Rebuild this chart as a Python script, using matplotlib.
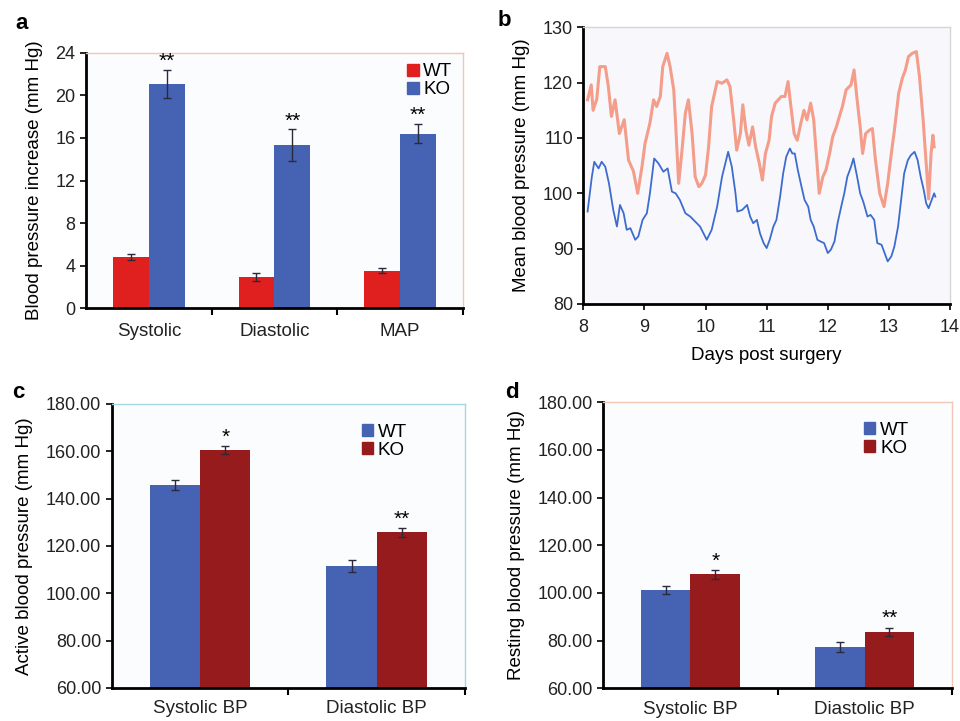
#!/usr/bin/env python3
"""Four-panel blood pressure figure (WT vs KO)."""
import matplotlib
matplotlib.use('Agg')
import matplotlib.pyplot as plt
import matplotlib.ticker as mticker
from matplotlib.patches import Patch
import numpy as np

plt.rcParams['font.family'] = ['Liberation Sans', 'DejaVu Sans']

RED_A   = '#E0201E'
BLUE    = '#4563B2'
DARKRED = '#961B1D'
ERRCOL  = '#2A2A3A'
BG      = '#FBFCFE'
FS      = 13.5   # labels
FS_TICK = 13     # tick labels

# ---------------------------------------------------------------- data
# panel a: increase in blood pressure
a_cats   = ['Systolic', 'Diastolic', 'MAP']
a_wt     = [4.8, 2.9, 3.5]
a_wt_err = [0.3, 0.4, 0.25]
a_ko     = [21.1, 15.3, 16.4]
a_ko_err = [1.3, 1.5, 0.9]
a_stars  = ['**', '**', '**']

# panel b: mean blood pressure trace
b_ko_days = [8.07, 8.13, 8.16, 8.22, 8.27, 8.36, 8.41, 8.46, 8.52, 8.59, 8.67, 8.74,
             8.82, 8.89, 8.96, 9.01, 9.09, 9.15, 9.20, 9.26, 9.30, 9.37, 9.42, 9.48,
             9.51, 9.56, 9.61, 9.67, 9.72, 9.78, 9.83, 9.89, 9.94, 10.00, 10.05, 10.10,
             10.19, 10.27, 10.35, 10.40, 10.46, 10.51, 10.57, 10.61, 10.66, 10.71, 10.77,
             10.82, 10.88, 10.93, 10.98, 11.04, 11.08, 11.14, 11.19, 11.24, 11.30, 11.35,
             11.39, 11.45, 11.50, 11.56, 11.61, 11.66, 11.72, 11.77, 11.82, 11.86, 11.92,
             11.97, 12.03, 12.08, 12.14, 12.19, 12.24, 12.30, 12.38, 12.43, 12.48, 12.53,
             12.57, 12.62, 12.68, 12.73, 12.78, 12.85, 12.92, 12.98, 13.04, 13.09, 13.16,
             13.22, 13.27, 13.32, 13.38, 13.45, 13.50, 13.56, 13.61, 13.65, 13.69, 13.72,
             13.74]
b_ko_vals = [116.9, 119.6, 115.0, 117.0, 122.9, 122.9, 119.3, 113.9, 116.9, 110.8, 113.3,
             106.0, 104.0, 100.0, 104.8, 109.0, 112.7, 116.9, 115.7, 117.5, 122.9, 125.3,
             122.9, 118.7, 112.7, 101.8, 107.2, 114.5, 116.9, 110.8, 103.0, 101.2, 101.8,
             103.3, 108.4, 115.7, 120.2, 119.9, 120.5, 119.3, 113.3, 107.8, 110.8, 116.0,
             111.4, 108.7, 112.0, 108.4, 105.4, 102.4, 107.2, 109.6, 113.9, 116.3, 116.9,
             117.5, 117.5, 120.2, 116.3, 110.8, 109.6, 112.7, 115.0, 113.3, 116.3, 113.3,
             106.0, 100.0, 103.0, 104.2, 107.2, 110.2, 112.0, 113.9, 115.7, 118.7, 119.6,
             122.3, 116.9, 112.0, 107.2, 110.8, 111.4, 111.7, 106.0, 100.0, 97.6, 101.8,
             107.2, 111.4, 118.1, 120.8, 122.3, 124.7, 125.3, 125.6, 121.1, 113.3, 105.4,
             99.0, 107.2, 110.5, 108.4]
b_wt_days = [8.07, 8.14, 8.18, 8.25, 8.30, 8.36, 8.42, 8.49, 8.55, 8.60, 8.66, 8.71,
             8.77, 8.85, 8.90, 8.97, 9.04, 9.09, 9.16, 9.23, 9.31, 9.38, 9.45, 9.51,
             9.58, 9.67, 9.75, 9.83, 9.91, 10.02, 10.10, 10.19, 10.27, 10.37, 10.43,
             10.49, 10.52, 10.60, 10.68, 10.73, 10.78, 10.84, 10.89, 10.95, 11.00, 11.05,
             11.11, 11.16, 11.22, 11.27, 11.32, 11.38, 11.42, 11.46, 11.51, 11.57, 11.62,
             11.68, 11.72, 11.77, 11.83, 11.88, 11.94, 12.00, 12.05, 12.11, 12.16, 12.22,
             12.27, 12.32, 12.38, 12.42, 12.48, 12.53, 12.58, 12.65, 12.70, 12.76, 12.81,
             12.88, 12.93, 12.98, 13.04, 13.09, 13.15, 13.20, 13.25, 13.31, 13.36, 13.42,
             13.47, 13.52, 13.57, 13.61, 13.65, 13.70, 13.74, 13.76]
b_wt_vals = [96.7, 103.0, 105.7, 104.5, 105.7, 104.8, 101.8, 97.0, 94.0, 97.9, 96.4, 93.4,
             93.7, 91.6, 92.2, 95.2, 96.4, 100.0, 106.3, 105.4, 103.9, 104.5, 100.3, 100.0,
             98.8, 96.4, 95.8, 94.9, 94.0, 91.6, 93.4, 97.6, 103.0, 107.5, 104.8, 100.0,
             96.7, 97.0, 97.9, 95.8, 94.6, 95.2, 92.8, 91.0, 90.1, 91.6, 94.0, 95.2, 99.4,
             103.6, 106.6, 108.1, 107.2, 107.2, 104.2, 101.2, 98.8, 97.6, 95.2, 94.0, 91.6,
             91.3, 91.0, 89.2, 89.8, 91.3, 94.6, 97.6, 100.0, 103.0, 104.8, 106.3, 103.0,
             100.0, 98.5, 95.8, 96.1, 95.2, 91.0, 90.7, 89.2, 87.7, 88.6, 90.4, 94.0, 98.8,
             103.6, 106.0, 106.9, 107.5, 106.0, 103.0, 100.6, 98.2, 97.3, 98.8, 100.0, 99.4]

# panels c and d
cd_cats  = ['Systolic BP', 'Diastolic BP']
c_wt     = [145.8, 111.6]
c_wt_err = [2.0, 2.5]
c_ko     = [160.6, 125.8]
c_ko_err = [1.8, 1.8]
c_stars  = ['*', '**']
d_wt     = [101.2, 77.4]
d_wt_err = [1.7, 2.1]
d_ko     = [107.8, 83.8]
d_ko_err = [1.8, 1.7]
d_stars  = ['*', '**']


def style_axes(ax, frame_col):
    ax.set_facecolor(BG)
    for s in ['left', 'bottom']:
        ax.spines[s].set_linewidth(2.0)
        ax.spines[s].set_color('black')
    for s in ['top', 'right']:
        ax.spines[s].set_linewidth(1.0)
        ax.spines[s].set_color(frame_col)
    ax.tick_params(axis='both', labelsize=FS_TICK, direction='out', width=1.2, length=4,
                   colors='black', labelcolor='#222222')


def grouped_bars(ax, cats, wt, wt_err, ko, ko_err, stars, c_wt, c_ko, star_pad, pad):
    x = np.arange(len(cats))
    w = 0.285
    ax.bar(x - w/2, wt, w, color=c_wt, yerr=wt_err, capsize=3,
           error_kw=dict(ecolor=ERRCOL, elinewidth=1.0, capthick=1.0), zorder=2)
    ax.bar(x + w/2, ko, w, color=c_ko, yerr=ko_err, capsize=3,
           error_kw=dict(ecolor=ERRCOL, elinewidth=1.0, capthick=1.0), zorder=2)
    for xi, v, e, s in zip(x, ko, ko_err, stars):
        ax.text(xi + w/2, v + e + star_pad, s, ha='center', va='bottom', fontsize=15)
    ax.set_xlim(-0.5, len(cats) - 0.5)
    ax.set_xticks(x)
    ax.set_xticklabels(cats, fontsize=FS)
    ax.set_xticks(np.arange(len(cats)) + 0.5, minor=True)
    ax.tick_params(axis='x', which='major', length=0, pad=pad)
    ax.tick_params(axis='x', which='minor', length=5, width=1.5)


fig = plt.figure(figsize=(9.6, 7.21), dpi=100)
fig.patch.set_facecolor('white')

# ---------------------------------------------------------------- panel a
ax = fig.add_axes([0.0896, 0.5728, 0.3924, 0.3537])
style_axes(ax, '#F2C6B2')
grouped_bars(ax, a_cats, a_wt, a_wt_err, a_ko, a_ko_err, a_stars, RED_A, BLUE, -0.1, 11)
ax.set_ylim(0, 24)
ax.yaxis.set_major_locator(mticker.MultipleLocator(4))
ax.set_ylabel('Blood pressure increase (mm Hg)', fontsize=FS, labelpad=9)
ax.legend(handles=[Patch(color=RED_A, label='WT'), Patch(color=BLUE, label='KO')],
          loc='upper right', frameon=False, fontsize=FS, handlelength=0.6,
          handleheight=0.6, handletextpad=0.25, labelspacing=0.05, borderaxespad=0.15)

# ---------------------------------------------------------------- panel b
ax = fig.add_axes([0.6076, 0.5784, 0.3820, 0.3837])
style_axes(ax, '#D6D6D6')
ax.set_facecolor('#F8F8FC')
ax.plot(b_ko_days, b_ko_vals, color='#F3937E', lw=2.2, alpha=0.9, zorder=2)
ax.plot(b_wt_days, b_wt_vals, color='#3D6CCF', lw=1.3, zorder=3)
ax.set_xlim(8, 14)
ax.set_ylim(80, 130)
ax.xaxis.set_major_locator(mticker.MultipleLocator(1))
ax.yaxis.set_major_locator(mticker.MultipleLocator(10))
ax.tick_params(axis='x', pad=7)
ax.set_xlabel('Days post surgery', fontsize=FS, labelpad=8)
ax.set_ylabel('Mean blood pressure (mm Hg)', fontsize=FS, labelpad=9)

# ---------------------------------------------------------------- panel c
ax = fig.add_axes([0.1164, 0.0458, 0.3680, 0.3939])
style_axes(ax, '#A8D4E6')
grouped_bars(ax, cd_cats, c_wt, c_wt_err, c_ko, c_ko_err, c_stars, BLUE, DARKRED, -0.3, 9)
ax.set_ylim(60, 180)
ax.yaxis.set_major_locator(mticker.MultipleLocator(20))
ax.yaxis.set_major_formatter(mticker.FormatStrFormatter('%.2f'))
ax.set_ylabel('Active blood pressure (mm Hg)', fontsize=FS, labelpad=9)
ax.legend(handles=[Patch(color=BLUE, label='WT'), Patch(color=DARKRED, label='KO')],
          loc='upper left', bbox_to_anchor=(0.66, 0.99), frameon=False, fontsize=FS,
          handlelength=0.6, handleheight=0.6, handletextpad=0.25, labelspacing=0.05)

# ---------------------------------------------------------------- panel d
ax = fig.add_axes([0.6284, 0.0454, 0.3630, 0.3966])
style_axes(ax, '#F0C6B6')
grouped_bars(ax, cd_cats, d_wt, d_wt_err, d_ko, d_ko_err, d_stars, BLUE, DARKRED, -0.3, 9)
ax.set_ylim(60, 180)
ax.yaxis.set_major_locator(mticker.MultipleLocator(20))
ax.yaxis.set_major_formatter(mticker.FormatStrFormatter('%.2f'))
ax.set_ylabel('Resting blood pressure (mm Hg)', fontsize=FS, labelpad=9)
ax.legend(handles=[Patch(color=BLUE, label='WT'), Patch(color=DARKRED, label='KO')],
          loc='upper left', bbox_to_anchor=(0.70, 0.99), frameon=False, fontsize=FS,
          handlelength=0.6, handleheight=0.6, handletextpad=0.25, labelspacing=0.05)

# panel letters
for lx, ly, lab in [(0.016, 0.968, 'a'), (0.518, 0.972, 'b'),
                    (0.013, 0.455, 'c'), (0.526, 0.455, 'd')]:
    fig.text(lx, ly, lab, fontsize=16, fontweight='bold', va='center')

fig.savefig('out.png', dpi=100)
